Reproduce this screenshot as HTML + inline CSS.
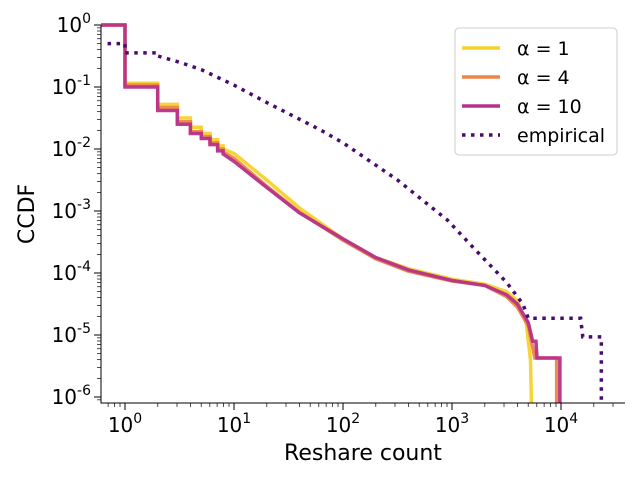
<!DOCTYPE html>
<html><head><meta charset="utf-8"><style>
body{margin:0;background:#fff;}
svg{display:block;font-family:"DejaVu Sans","Liberation Sans",sans-serif;}
</style></head><body>
<svg id="chart" width="640" height="480">
<g id="ticks"></g><g id="series"></g>
</svg>
<script>
const xTickExps=[0,1,2,3,4];
const yTickExps=[0,-1,-2,-3,-4,-5,-6];
const seriesNames=["alpha-1","alpha-4","alpha-10","empirical"];
const alpha1=[[-0.22,0],[0,0],[0,-0.94],[0.3,-0.94],[0.3,-1.28],[0.48,-1.28],[0.48,-1.5],[0.6,-1.5],[0.6,-1.65],[0.7,-1.65],[0.7,-1.75],[0.78,-1.75],[0.78,-1.85],[0.85,-1.85],[0.85,-1.95],[0.9,-1.95],[0.9,-2.0],[1,-2.07],[1.3,-2.5],[1.6,-2.95],[2,-3.45],[2.3,-3.75],[2.6,-3.93],[3,-4.1],[3.3,-4.18],[3.5,-4.3],[3.6,-4.45],[3.68,-4.8],[3.72,-5.4],[3.73,-6.2]];
const alpha4=[[-0.22,0],[0,0],[0,-0.97],[0.3,-0.97],[0.3,-1.33],[0.48,-1.33],[0.48,-1.56],[0.6,-1.56],[0.6,-1.72],[0.7,-1.72],[0.7,-1.8],[0.78,-1.8],[0.78,-1.9],[0.85,-1.9],[0.85,-2.0],[0.9,-2.0],[0.9,-2.05],[1,-2.15],[1.3,-2.6],[1.6,-3.02],[2,-3.47],[2.3,-3.77],[2.6,-3.97],[3,-4.13],[3.3,-4.2],[3.5,-4.38],[3.6,-4.55],[3.7,-4.85],[3.76,-5.37],[3.96,-5.37],[3.96,-6.2]];
const alpha10=[[-0.22,0],[0,0],[0,-1],[0.3,-1],[0.3,-1.38],[0.48,-1.38],[0.48,-1.6],[0.6,-1.6],[0.6,-1.75],[0.7,-1.75],[0.7,-1.83],[0.78,-1.83],[0.78,-1.93],[0.85,-1.93],[0.85,-2.03],[0.9,-2.03],[0.9,-2.08],[1,-2.2],[1.3,-2.62],[1.6,-3.03],[2,-3.45],[2.3,-3.75],[2.6,-3.95],[3,-4.12],[3.3,-4.2],[3.5,-4.35],[3.6,-4.5],[3.7,-4.8],[3.74,-5.1],[3.77,-5.1],[3.78,-5.37],[3.99,-5.37],[3.99,-6.2]];
const empirical=[[-0.16,-0.3],[0,-0.3],[0,-0.45],[0.3,-0.45],[0.3,-0.5],[0.5,-0.6],[0.7,-0.72],[1,-0.97],[1.3,-1.25],[1.79,-1.69],[2,-1.9],[2.5,-2.5],[2.96,-3.15],[3.2,-3.6],[3.5,-4.15],[3.65,-4.5],[3.7,-4.73],[4.18,-4.73],[4.2,-5.03],[4.37,-5.03],[4.37,-6.2]];
const legendLabels=["α = 1","α = 4","α = 10","empirical"];

const NS="http://www.w3.org/2000/svg";
const L=101,R=625,T=25,B=403;
const xs=e=>125+e*109;
const ys=e=>25-e*62;
const svg=document.getElementById('chart');
function mk(tag,attrs,parent){const el=document.createElementNS(NS,tag);for(const k in attrs)el.setAttribute(k,attrs[k]);(parent||svg).appendChild(el);return el;}
const cp=mk('clipPath',{id:'clip'});mk('rect',{x:L,y:T-3,width:R-L,height:B-T+3},cp);
const tg=document.getElementById('ticks');
for(let d=-1;d<=4;d++){for(let m=1;m<10;m++){const v=d+Math.log10(m);const x=xs(v);if(x<L||x>R)continue;
 const t=mk('line',{x1:x,x2:x,y1:B,y2:B+(m==1?7:4),stroke:'#000','stroke-width':m==1?1:0.7},tg);
 }}
xTickExps.forEach(e=>{const t=mk('text',{x:xs(e),y:B+29,'text-anchor':'middle','font-size':20},tg);
 
 t.innerHTML='10<tspan dy="-9" font-size="14">'+e+'</tspan>';});
for(let d=-7;d<=0;d++){for(let m=1;m<10;m++){const v=d+Math.log10(m);const y=ys(v);if(y>B||y<T-0.5)continue;
 const t=mk('line',{x1:L-(m==1?7:4),x2:L,y1:y,y2:y,stroke:'#000','stroke-width':m==1?1:0.7},tg);
 }}
yTickExps.forEach(e=>{const t=mk('text',{x:L-10,y:ys(e)+7,'text-anchor':'end','font-size':20},tg);
 
 t.innerHTML='10<tspan dy="-9" font-size="14">'+e+'</tspan>';});
const sg=document.getElementById('series');
const datas=[alpha1,alpha4,alpha10,empirical];
const colors=['#f5d22c','#ed8547','#b6318a','#4a0c6b'];
datas.forEach((d,i)=>{const p=mk('polyline',{points:d.map(q=>xs(q[0])+','+ys(q[1])).join(' '),fill:'none',stroke:colors[i],'stroke-width':3.5,'clip-path':'url(#clip)','stroke-opacity':i<3?0.95:1},sg);
 if(i==3){p.setAttribute('stroke-dasharray','3.5 5.5');}
 });
const ax=mk('path',{d:`M${L},${T} V${B} H${R}`,fill:'none',stroke:'#000','stroke-width':1});

const xt=mk('text',{x:363,y:460,'text-anchor':'middle','font-size':22});xt.textContent='Reshare count';

const yt=mk('text',{x:0,y:0,'text-anchor':'middle','font-size':22,transform:'translate(34,214) rotate(-90)'});yt.textContent='CCDF';

const lg=mk('g',{});
mk('rect',{x:455,y:28,width:162,height:127,rx:4,fill:'#fff',stroke:'#ccc','stroke-width':1},lg);
const rowsY=[48,77,106,135];
legendLabels.forEach((lab,i)=>{const e=mk('g',{},lg);
 const l=mk('line',{x1:462,x2:500,y1:rowsY[i],y2:rowsY[i],stroke:colors[i],'stroke-width':3.5},e);
 if(i==3)l.setAttribute('stroke-dasharray','3.5 5.5');
 const t=mk('text',{x:517,y:rowsY[i]+7,'font-size':19},e);t.textContent=lab;});
</script>
</body></html>
